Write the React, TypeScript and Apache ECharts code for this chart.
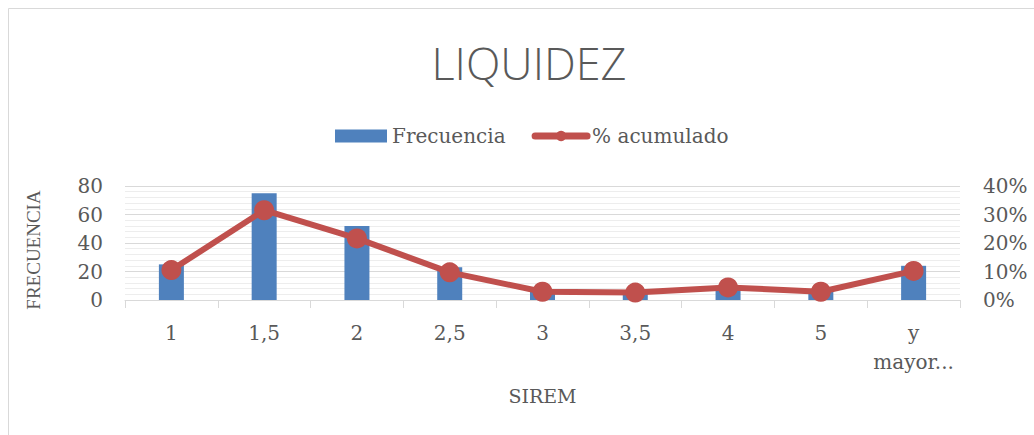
import React, { useEffect, useRef } from "react";
import * as echarts from "echarts";

const categories = ["1", "1,5", "2", "2,5", "3", "3,5", "4", "5", "y mayor..."];
const frecuencia = [25, 75, 52, 23, 7, 6, 10, 7, 24];
const acumulado = [0.105, 0.315, 0.216, 0.097, 0.029, 0.026, 0.044, 0.029, 0.102];
const leftAxis = { min: 0, max: 80, interval: 20 };
const rightAxis = { min: 0, max: 0.4, interval: 0.1 };

const SERIF = "'DejaVu Serif', serif";
const GREY = "#595959";

export default function App() {
  const ref = useRef<HTMLDivElement>(null);
  useEffect(() => {
    if (!ref.current) return;
    const chart = echarts.init(ref.current, null, { renderer: "svg" });
    chart.setOption({
      animation: false,
      backgroundColor: "#ffffff",
      graphic: [
        {
          type: "rect",
          shape: { x: 8.5, y: 8.5, width: 1100, height: 500 },
          style: { fill: "none", stroke: "#d9d9d9", lineWidth: 1 },
          silent: true,
        },
        {
          type: "text",
          x: 529,
          y: 62,
          style: {
            text: "LIQUIDEZ",
            align: "center",
            verticalAlign: "middle",
            fontFamily: "'Open Sans', sans-serif",
            fontWeight: 300,
            fontSize: 45,
            fill: GREY,
          },
        },
        {
          type: "text",
          x: 33,
          y: 250,
          rotation: Math.PI / 2,
          style: {
            text: "FRECUENCIA",
            align: "center",
            verticalAlign: "middle",
            fontFamily: "'Liberation Serif', serif",
            fontSize: 19,
            fill: GREY,
          },
        },
      ],
      legend: {
        left: 330,
        top: 121,
        itemWidth: 52,
        itemHeight: 13,
        itemGap: 26,
        textStyle: { fontFamily: SERIF, fontSize: 20, color: GREY },
        data: [
          { name: "Frecuencia", icon: "rect" },
          {
            name: "% acumulado",
            lineStyle: { width: 7, color: "#c0504d", cap: "round" },
            itemStyle: { color: "#c0504d" },
          },
        ],
      },
      grid: { left: 125, right: 74, top: 186, bottom: 135, containLabel: false },
      xAxis: {
        type: "category",
        data: categories,
        boundaryGap: true,
        name: "SIREM",
        nameLocation: "middle",
        nameGap: 86,
        nameTextStyle: { fontFamily: SERIF, fontSize: 19, color: GREY },
        axisLine: { show: true, lineStyle: { color: "#d9d9d9", width: 1 } },
        axisTick: { show: true, length: 8, alignWithLabel: false, lineStyle: { color: "#d9d9d9" } },
        axisLabel: {
          fontFamily: SERIF,
          fontSize: 20,
          color: GREY,
          margin: 18,
          lineHeight: 29,
          interval: 0,
          formatter: (v: string) => v.replace(" ", "\n"),
        },
      },
      yAxis: [
        {
          type: "value",
          min: leftAxis.min,
          max: leftAxis.max,
          interval: leftAxis.interval,
          axisLine: { show: false },
          axisTick: { show: false },
          axisLabel: { fontFamily: SERIF, fontSize: 20, color: GREY, margin: 22 },
          splitLine: { show: true, lineStyle: { color: "#d9d9d9", width: 1 } },
          minorTick: { show: false, splitNumber: 5 },
          minorSplitLine: { show: true, lineStyle: { color: "#ededed", width: 1 } },
        },
        {
          type: "value",
          min: rightAxis.min,
          max: rightAxis.max,
          interval: rightAxis.interval,
          axisLine: { show: false },
          axisTick: { show: false },
          splitLine: { show: false },
          axisLabel: {
            fontFamily: SERIF,
            fontSize: 20,
            color: GREY,
            margin: 23,
            formatter: (v: number) => `${Math.round(v * 100)}%`,
          },
        },
      ],
      series: [
        {
          name: "Frecuencia",
          type: "bar",
          data: frecuencia,
          barWidth: 25,
          itemStyle: { color: "#4f81bd" },
          yAxisIndex: 0,
          z: 2,
        },
        {
          name: "% acumulado",
          type: "line",
          data: acumulado,
          yAxisIndex: 1,
          symbol: "circle",
          symbolSize: 20,
          itemStyle: { color: "#c0504d" },
          lineStyle: { color: "#c0504d", width: 6 },
          z: 3,
        },
      ],
    });
    return () => chart.dispose();
  }, []);
  return (
    <div
      ref={ref}
      style={{ position: "fixed", left: 0, top: 0, width: 1034, height: 435 }}
    />
  );
}
